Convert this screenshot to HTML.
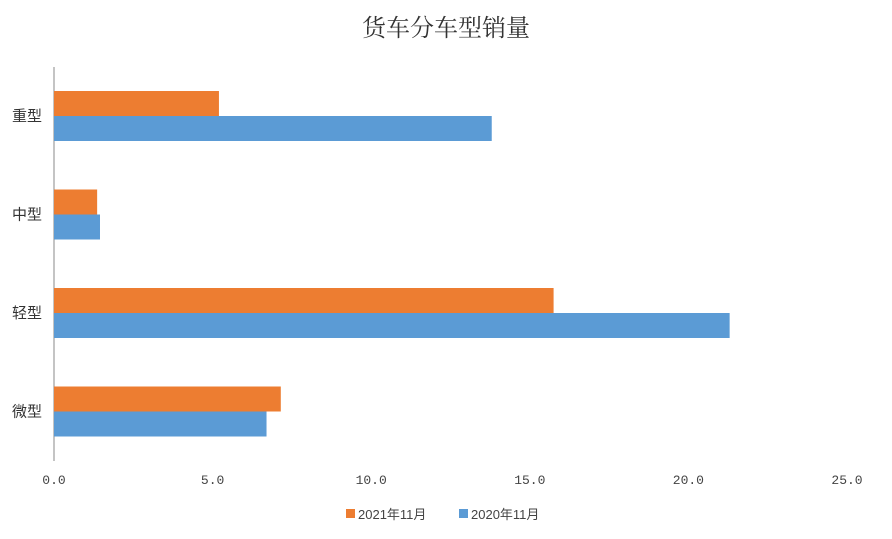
<!DOCTYPE html>
<html><head><meta charset="utf-8"><style>
body{margin:0;background:#fff;}
svg text{font-family:"Liberation Sans","Noto Sans CJK SC",sans-serif;}
</style></head><body>
<svg id="c" width="892" height="534">
<text x="446" y="36" text-anchor="middle" font-size="24" fill="#333" style="font-family:'Liberation Serif','Noto Serif CJK SC',serif">货车分车型销量</text>
</svg>
<script>
const categories=["重型","中型","轻型","微型"];
const series2021=[5.2,1.36,15.75,7.15];
const series2020=[13.8,1.45,21.3,6.7];
const ticks=[0,5,10,15,20,25];
const tickLabels=["0.0","5.0","10.0","15.0","20.0","25.0"];
const svg=document.getElementById('c');const NS="http://www.w3.org/2000/svg";
const x0=54,pxPer=31.72,plotTop=67,band=98.5;
const xs=v=>x0+v*pxPer;
function mk(t,a,p){const e=document.createElementNS(NS,t);for(const k in a)e.setAttribute(k,a[k]);(p||svg).appendChild(e);return e;}
const ax=mk('line',{x1:x0,y1:plotTop,x2:x0,y2:plotTop+band*4,stroke:'#888','stroke-width':1});


ticks.forEach((t,i)=>{const e=mk('text',{x:xs(t),y:484,'text-anchor':'middle','font-size':13,fill:'#444',style:'font-family:"Liberation Mono",monospace'});e.textContent=tickLabels[i];

});
categories.forEach((c,i)=>{const y=plotTop+band*i+24;
const b1=mk('rect',{x:x0,y:y,width:xs(series2021[i])-x0,height:25,fill:'#ed7d31'});


const b2=mk('rect',{x:x0,y:y+25,width:xs(series2020[i])-x0,height:25,fill:'#5b9bd5'});


const l=mk('text',{x:42,y:y+30,'text-anchor':'end','font-size':15,fill:'#333'});l.textContent=c;

});
const lg=[["#ed7d31","2021年11月",346],["#5b9bd5","2020年11月",459]];
lg.forEach(d=>{const g=mk('g',{});


mk('rect',{x:d[2],y:509,width:9,height:9,fill:d[0]},g);
const t=mk('text',{x:d[2]+12,y:519,'font-size':13,fill:'#444'},g);t.textContent=d[1];});
</script>
</body></html>
